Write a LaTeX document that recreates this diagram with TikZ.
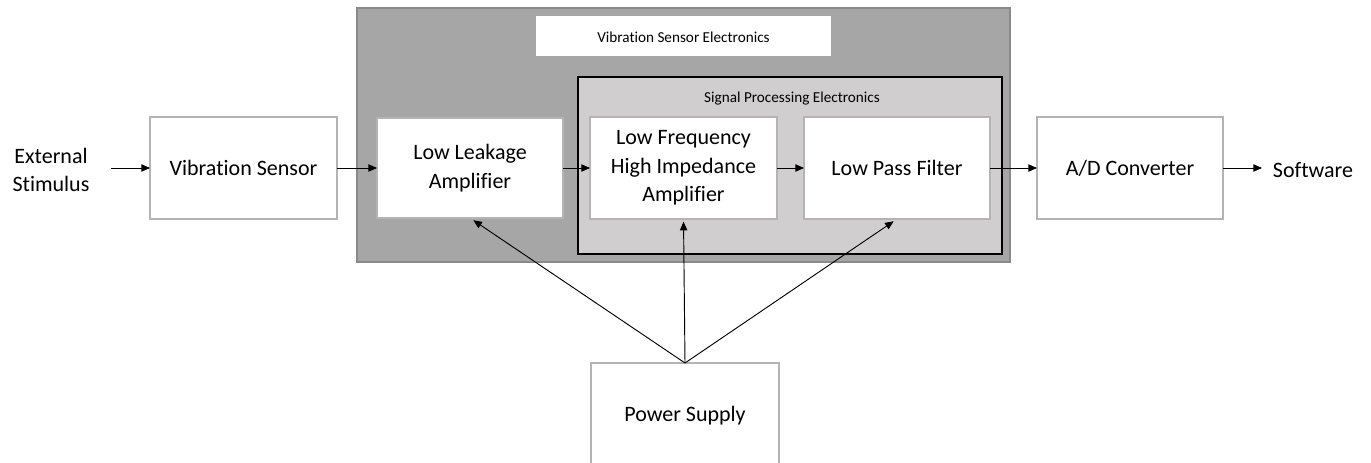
\documentclass[tikz,border=0pt]{standalone}
\usepackage{fontspec}
\setmainfont[Ligatures=NoCommon]{Carlito}
\usetikzlibrary{arrows.meta}
\definecolor{outerfill}{HTML}{A6A6A6}
\definecolor{outerdraw}{HTML}{8A8A8A}
\definecolor{innerfill}{HTML}{D0CECE}
\definecolor{boxdraw}{HTML}{B4B4B4}
\tikzset{
  wbox/.style={draw=boxdraw, line width=1.1pt, fill=white, inner sep=0pt, outer sep=0pt,
    align=center, font=\fontsize{16.5}{21.3}\selectfont},
  plain/.style={inner sep=0pt, align=center, font=\fontsize{16.5}{20.5}\selectfont},
  small/.style={inner sep=0pt, font=\fontsize{11.4}{13}\selectfont},
  arr/.style={-{Triangle[length=6.5pt,width=5.5pt]}, line width=0.7pt, black},
}
\begin{document}
\begin{tikzpicture}[x=0.75pt,y=-0.75pt]
\useasboundingbox (0,0) rectangle (1371,463);
\clip (0,0) rectangle (1371,463);
% containers
\node[draw=outerdraw, line width=1.5pt, fill=outerfill, minimum width=489.75pt, minimum height=190.5pt, inner sep=0pt] (outer) at (683.5,135) {};
\node[fill=white, minimum width=221.25pt, minimum height=30pt, inner sep=0pt] (title) at (683.5,36) {};
\node[small] (titletext) at (683.5,37) {Vibration Sensor Electronics};
\node[draw=black, line width=1.5pt, fill=innerfill, minimum width=317.6pt, minimum height=132.75pt, inner sep=0pt] (inner) at (790,165.5) {};
\node[small] (innertext) at (792,99) {Signal Processing Electronics};
% blocks
\node[wbox, minimum width=140.25pt, minimum height=76.5pt] (vs) at (243.5,168) {Vibration Sensor};
\node[wbox, minimum width=139.5pt, minimum height=75pt] (lla) at (470,168) {Low Leakage\\Amplifier};
\node[wbox, minimum width=140.25pt, minimum height=76.5pt] (lf) at (683.5,168) {Low Frequency\\High Impedance\\Amplifier};
\node[wbox, minimum width=139.5pt, minimum height=76.5pt] (lpf) at (897,168) {Low Pass Filter};
\node[wbox, minimum width=139.5pt, minimum height=76.5pt] (ad) at (1130,168) {A/D Converter};
\node[wbox, minimum width=141pt, minimum height=79.5pt] (ps) at (685,416) {Power Supply};
\node[plain] (ext) at (51,170) {External\\Stimulus};
\node[plain] (sw) at (1313,170) {Software};
% horizontal connectors
\coordinate (extout) at (111,168);
\coordinate (swin) at (1262,168);
\draw[arr] (extout) -- (vs.west);
\draw[arr] (vs.east) -- (lla.west);
\draw[arr] (lla.east) -- (lf.west);
\draw[arr] (lf.east) -- (lpf.west);
\draw[arr] (lpf.east) -- (ad.west);
\draw[arr] (ad.east) -- (swin);
% power connectors
\draw[arr, shorten >=3pt] (ps.north) -- (lla.south);
\draw[arr, shorten >=2pt] (ps.north) -- (lf.south);
\draw[arr, shorten >=3pt] (ps.north) -- (lpf.south);
\end{tikzpicture}
\end{document}
